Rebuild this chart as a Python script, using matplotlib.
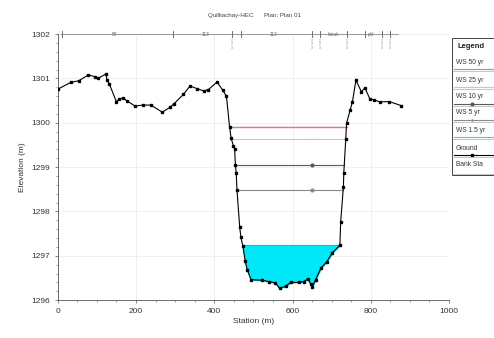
import numpy as np
import matplotlib.pyplot as plt
from matplotlib.lines import Line2D
from matplotlib.patches import Rectangle

plt.rcParams['font.family'] = ['Liberation Sans', 'DejaVu Sans']

# ground profile (station m, elevation m)
station = [0, 33, 54, 78, 95, 102, 123, 126, 132, 150, 157, 167, 176, 197, 219, 238,
           267, 287, 297, 321, 338, 356, 373, 385, 407, 422, 431, 439, 443, 449, 452,
           454, 456, 458, 465, 468, 473, 479, 484, 494, 522, 539, 556, 567, 582, 595,
           616, 629, 639, 646, 650, 659, 673, 687, 702, 721, 723, 730, 731, 736, 738,
           747, 753, 762, 776, 785, 798, 807, 824, 847, 877]
ground = [1300.76, 1300.91, 1300.95, 1301.08, 1301.04, 1301.00, 1301.10, 1300.96,
          1300.87, 1300.47, 1300.54, 1300.56, 1300.50, 1300.38, 1300.40, 1300.40,
          1300.24, 1300.35, 1300.43, 1300.64, 1300.83, 1300.77, 1300.72, 1300.75,
          1300.92, 1300.73, 1300.60, 1299.91, 1299.65, 1299.48, 1299.40, 1299.05,
          1298.87, 1298.48, 1297.64, 1297.42, 1297.22, 1296.88, 1296.69, 1296.46,
          1296.45, 1296.42, 1296.39, 1296.27, 1296.31, 1296.40, 1296.40, 1296.42,
          1296.48, 1296.37, 1296.29, 1296.46, 1296.73, 1296.86, 1297.07, 1297.24,
          1297.76, 1298.56, 1298.87, 1299.63, 1299.99, 1300.28, 1300.47, 1300.96,
          1300.70, 1300.79, 1300.53, 1300.52, 1300.47, 1300.48, 1300.39]

# water surfaces
ws_names = ['WS 50 yr', 'WS 25 yr', 'WS 10 yr', 'WS 5 yr']
ws_elev = [1299.90, 1299.64, 1299.05, 1298.48]
ws_left = [439, 443, 454, 458]
ws_right = [738, 736, 731, 730]
ws_colors = ['#ee6f8c', '#c8c8c8', '#5a5a5a', '#8a8a8a']
ws_markers = [None, '_', 'o', 'o']
ws15_elev = 1297.24

legend_labels = ['WS 50 yr', 'WS 25 yr', 'WS 10 yr', 'WS 5 yr', 'WS 1.5 yr', 'Ground', 'Bank Sta']

# reach lengths / structures along top
top_marks = [10, 295, 446, 467, 649, 669, 738, 785, 828, 848]
top_labels = ['58', '113', '113', 'kiouk', 'pkl']
top_label_x = [146, 377, 551, 705, 800]

fig = plt.figure(figsize=(4.94, 3.38), dpi=100)
ax = fig.add_axes([0.117, 0.112, 0.792, 0.787])

st = np.array(station)
gr = np.array(ground)

ax.fill_between(st, gr, ws15_elev, where=gr < ws15_elev, interpolate=True,
                color='#00e8f8', zorder=2)
ax.plot([473, 721], [ws15_elev, ws15_elev], color='#00c8d8', lw=0.8, zorder=2)

for e, l, r, c, m in zip(ws_elev, ws_left, ws_right, ws_colors, ws_markers):
    ax.plot([l, r], [e, e], color=c, lw=1.0 if m is None else 0.8, zorder=3)
    if m is not None:
        ax.plot([650], [e], marker=m, color=c, ms=2, mec=c, zorder=3)

ax.plot(st, gr, color='black', lw=0.8, marker='s', ms=1.8, zorder=4)

ax.set_xlim(0, 1000)
ax.set_ylim(1296, 1302)
ax.set_xticks([0, 200, 400, 600, 800, 1000])
ax.set_yticks([1296, 1297, 1298, 1299, 1300, 1301, 1302])
ax.set_xticks(np.arange(0, 1001, 50), minor=True)
ax.set_yticks(np.arange(1296, 1302.01, 0.2), minor=True)
ax.tick_params(labelsize=6, length=2, width=0.5, color='#555555', labelcolor='#333333')
ax.tick_params(which='minor', length=1.2, width=0.5, color='#777777')
ax.grid(True, color='#ececec', lw=0.6)
ax.set_axisbelow(True)
for s in ['top', 'right']:
    ax.spines[s].set_visible(False)
for s in ['left', 'bottom']:
    ax.spines[s].set_color('#555555')
    ax.spines[s].set_linewidth(0.6)
ax.set_xlabel('Station (m)', fontsize=6, color='#333333', labelpad=2)
ax.set_ylabel('Elevation (m)', fontsize=6, color='#333333', labelpad=4)

# top reach line
ax.plot([5, 870], [1302, 1302], color='#777777', lw=0.5, clip_on=False, zorder=5)
for x in top_marks:
    ax.plot([x, x], [1301.93, 1302.07], color='#555555', lw=0.6, clip_on=False)
for t, x in zip(top_labels, top_label_x):
    ax.text(x, 1302, t, fontsize=3.5, color='#666666', ha='center', va='center',
            bbox=dict(facecolor='white', edgecolor='none', pad=0.5), clip_on=False)
for x in [446, 649, 669, 738, 828, 848]:
    ax.text(x, 1301.9, '2\n2\n3', fontsize=2.5, color='#888888', ha='center',
            va='top', linespacing=0.9)

fig.text(0.515, 0.955, 'Quilliachay-HEC      Plan: Plan 01', fontsize=4.5,
         color='#444444', ha='center', va='center')

# legend box on the right (cut by the figure edge)
lx0 = 452 / 494
ly_top = 1 - 38 / 338
ly_bot = 1 - 175 / 338
fig.patches.append(Rectangle((lx0, ly_bot), 0.2, ly_top - ly_bot, transform=fig.transFigure,
                             facecolor='white', edgecolor='#444444', lw=0.7))
fig.text(lx0 + 0.012, 1 - 46 / 338, 'Legend', fontsize=5.5, fontweight='bold',
         color='#222222', va='center')
entry_y = [62, 80, 97, 113, 130, 148, 165]
sample_style = [('#ee6f8c', None), ('#c8c8c8', '_'), ('#5a5a5a', 'o'), ('#8a8a8a', '+'),
                ('#00e8f8', None), ('black', 's'), (None, None)]
for i, (lab, yy) in enumerate(zip(legend_labels, entry_y)):
    yf = 1 - yy / 338
    fig.text(lx0 + 0.008, yf, lab, fontsize=4.8, color='#333333', va='center')
    c, m = sample_style[i]
    sy = yf - 0.022
    if c is not None:
        fig.add_artist(Line2D([lx0 + 0.005, 1.0], [sy, sy], color=c, lw=0.8,
                              transform=fig.transFigure))
        if m is not None:
            fig.add_artist(Line2D([lx0 + 0.04], [sy], marker=m, color=c, ms=2,
                                  transform=fig.transFigure))
    fig.add_artist(Line2D([lx0, 1.0], [sy - 0.006, sy - 0.006], color='#999999', lw=0.4,
                          transform=fig.transFigure))

fig.savefig('out.png', dpi=100)
